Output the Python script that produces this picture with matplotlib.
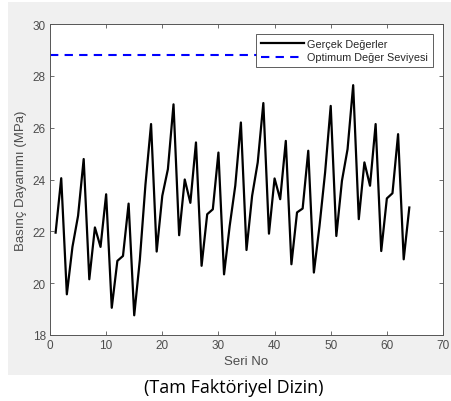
import matplotlib
matplotlib.use('Agg')
from matplotlib import pyplot as plt
from matplotlib.patches import Rectangle

seri_no = list(range(1, 65))
gercek = [21.95, 24.05, 19.57, 21.4, 22.6, 24.79, 20.15, 22.15, 21.4, 23.43,
          19.05, 20.86, 21.05, 23.07, 18.76, 20.9, 23.8, 26.14, 21.22, 23.37,
          24.4, 26.9, 21.85, 24.0, 23.1, 25.43, 20.67, 22.66, 22.85, 25.04,
          20.34, 22.2, 23.76, 26.2, 21.28, 23.37, 24.66, 26.95, 21.91, 24.04,
          23.24, 25.49, 20.73, 22.73, 22.88, 25.11, 20.41, 22.2, 24.27, 26.84,
          21.82, 23.95, 25.17, 27.64, 22.47, 24.66, 23.76, 26.14, 21.24, 23.27,
          23.47, 25.75, 20.92, 22.92]
optimum = 28.8
opt_x = [0, 64]

plt.rcParams['font.family'] = ['Liberation Sans', 'DejaVu Sans']
W, H = 451, 402
fig = plt.figure(figsize=(W / 100, H / 100), dpi=100)
fig.patch.set_facecolor('white')
fig.patches.append(Rectangle((8 / W, (H - 376) / H), (W - 8) / W, (376 - 3) / H,
                             transform=fig.transFigure, facecolor='#f0f0f0',
                             edgecolor='none', zorder=-5))

ax = fig.add_axes([50 / W, (H - 336) / H, 393 / W, 311 / H])
ax.plot(seri_no, gercek, color='black', lw=1.6, label='Gerçek Değerler')
ax.plot(opt_x, [optimum, optimum], color='blue', lw=1.5, linestyle=(0, (4, 3)),
        label='Optimum Değer Seviyesi')

ax.set_xlim(0, 70)
ax.set_ylim(18, 30)
ax.set_xticks(range(0, 71, 10))
ax.set_yticks(range(18, 31, 2))
gray = '#4d4d4d'
ax.tick_params(direction='in', top=True, right=True, length=3, width=0.6,
               colors='#555555', labelcolor=gray, labelsize=8.5, pad=3)
for s in ax.spines.values():
    s.set_color('#555555')
    s.set_linewidth(0.7)
ax.set_xlabel('Seri No', fontsize=9.5, color=gray, labelpad=3)
ax.set_ylabel('Basınç Dayanımı (MPa)', fontsize=9.5, color=gray, labelpad=4)

leg = ax.legend(loc='upper right', fontsize=7.8, fancybox=False, framealpha=1,
                edgecolor='#444444', handlelength=4, borderaxespad=0.9,
                labelspacing=0.35, borderpad=0.45, handletextpad=0.3)
leg.get_frame().set_linewidth(0.6)
for t in leg.get_texts():
    t.set_color('#262626')

fig.text(234 / W, 1 - 388 / H, '(Tam Faktöriyel Dizin)', ha='center', va='center',
         fontsize=13, family=['Open Sans', 'DejaVu Sans'], color='black')

fig.savefig('out.png', dpi=100)
